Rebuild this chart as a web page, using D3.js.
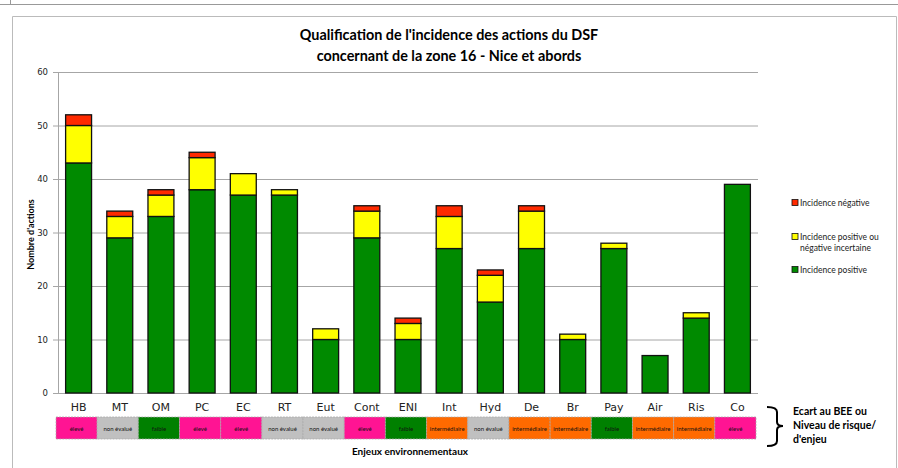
<!DOCTYPE html>
<html>
<head>
<meta charset="utf-8">
<script src="https://cdn.jsdelivr.net/npm/d3@7"></script>
<style>
body { margin: 0; background: #fff; }
svg { display: block; }
.tick text { font-family: "DejaVu Sans", Verdana, sans-serif; }
</style>
</head>
<body>
<svg width="898" height="468"></svg>
<script>
// Data
var categories = ['HB', 'MT', 'OM', 'PC', 'EC', 'RT', 'Eut', 'Cont', 'ENI', 'Int', 'Hyd', 'De', 'Br', 'Pay', 'Air', 'Ris', 'Co'];
var positive  = [43, 29, 33, 38, 37, 37, 10, 29, 10, 27, 17, 27, 10, 27, 7, 14, 39];
var uncertain = [7, 4, 4, 6, 4, 1, 2, 5, 3, 6, 5, 7, 1, 1, 0, 1, 0];
var negative  = [2, 1, 1, 1, 0, 0, 0, 1, 1, 2, 1, 1, 0, 0, 0, 0, 0];
var enjeux = ['élevé', 'non évalué', 'faible', 'élevé', 'élevé', 'non évalué', 'non évalué', 'élevé', 'faible',
    'intermédiaire', 'non évalué', 'intermédiaire', 'intermédiaire', 'faible', 'intermédiaire', 'intermédiaire', 'élevé'];
var yTicks = [0, 10, 20, 30, 40, 50, 60];
var seriesKeys = ['positive', 'uncertain', 'negative'];
var seriesLabels = {
    negative: ['Incidence négative'],
    uncertain: ['Incidence positive ou', 'négative incertaine'],
    positive: ['Incidence positive']
};
var seriesColors = {positive: '#008a00', uncertain: '#ffff00', negative: '#ff2a00'};
var enjeuColors = {'élevé': '#ff1493', 'non évalué': '#c0c0c0', 'faible': '#008000', 'intermédiaire': '#ff6a00'};

var svg = d3.select('svg');
var calibri = 'Lato, "Open Sans", sans-serif';

// chart frame
svg.append('line').attr('x1', 0).attr('x2', 898).attr('y1', 4.5).attr('y2', 4.5).attr('stroke', '#999');
svg.append('line').attr('x1', 10.5).attr('x2', 10.5).attr('y1', 0).attr('y2', 4.5).attr('stroke', '#999');
svg.append('path').attr('d', 'M12.5,468V16.5H896.5V468').attr('fill', 'none').attr('stroke', '#bbb');

var plot = {l: 58, r: 758, t: 72, b: 393};

var table = categories.map(function(c, i) {
    return {cat: c, positive: positive[i], uncertain: uncertain[i], negative: negative[i]};
});
var stacked = d3.stack().keys(seriesKeys)(table);

var xScale = d3.scaleBand()
    .domain(categories)
    .range([plot.l, plot.r])
    .paddingInner(0.37)
    .paddingOuter(0.185);

var yScale = d3.scaleLinear()
    .domain([0, 60])
    .range([plot.b, plot.t]);

// grid
svg.append('g')
    .attr('transform', 'translate(' + plot.l + ',0)')
    .call(d3.axisLeft(yScale).tickValues(yTicks).tickSize(-(plot.r - plot.l)).tickFormat(''))
    .call(function(g) {
        g.select('.domain').remove();
        g.selectAll('.tick line').attr('stroke', '#a6a6a6');
    });

// y axis
svg.append('g')
    .attr('transform', 'translate(' + plot.l + ',0)')
    .call(d3.axisLeft(yScale).tickValues(yTicks).tickSize(5).tickPadding(5))
    .call(function(g) {
        g.select('.domain').attr('stroke', '#a6a6a6');
        g.selectAll('.tick line').attr('stroke', '#a6a6a6');
        g.selectAll('.tick text').attr('font-size', 8.5).attr('fill', '#222');
    });

// x baseline
svg.append('line')
    .attr('x1', plot.l).attr('x2', plot.r)
    .attr('y1', yScale(0) + 0.5).attr('y2', yScale(0) + 0.5)
    .attr('stroke', '#a6a6a6');

// bars
svg.selectAll('.layer')
    .data(stacked)
    .enter()
    .append('g')
    .attr('class', 'layer')
    .attr('fill', function(d) { return seriesColors[d.key]; })
    .selectAll('rect')
    .data(function(d) { return d.filter(function(p) { return p[1] > p[0]; }); })
    .enter()
    .append('rect')
    .attr('x', function(d) { return xScale(d.data.cat); })
    .attr('y', function(d) { return yScale(d[1]); })
    .attr('width', xScale.bandwidth())
    .attr('height', function(d) { return yScale(d[0]) - yScale(d[1]); })
    .attr('stroke', '#111')
    .attr('stroke-width', 1.3);

// category labels
svg.append('g')
    .attr('transform', 'translate(0,' + (plot.b + 2) + ')')
    .call(d3.axisBottom(xScale).tickSize(0).tickPadding(8))
    .call(function(g) {
        g.select('.domain').remove();
        g.selectAll('.tick text').attr('font-size', 11).attr('fill', '#222');
    });

// enjeux row
var step = xScale.step();
var rowG = svg.append('g');
rowG.selectAll('rect')
    .data(categories)
    .enter()
    .append('rect')
    .attr('x', function(d) { return xScale(d) + xScale.bandwidth() / 2 - step / 2 - 2; })
    .attr('y', 417)
    .attr('width', step)
    .attr('height', 22)
    .attr('fill', function(d, i) { return enjeuColors[enjeux[i]]; })
    .attr('stroke', '#aaa')
    .attr('stroke-dasharray', '2,1')
    .attr('stroke-width', 0.8);
rowG.selectAll('text')
    .data(categories)
    .enter()
    .append('text')
    .attr('x', function(d) { return xScale(d) + xScale.bandwidth() / 2 - 2; })
    .attr('y', 430.5)
    .attr('text-anchor', 'middle')
    .attr('font-family', calibri)
    .attr('font-size', 6)
    .attr('fill', '#111')
    .text(function(d, i) { return enjeux[i]; });

svg.append('text')
    .attr('x', 410).attr('y', 455)
    .attr('text-anchor', 'middle')
    .attr('font-family', calibri)
    .attr('font-weight', 'bold')
    .attr('font-size', 10)
    .text('Enjeux environnementaux');

// brace
svg.append('path')
    .attr('d', 'M767,407 Q777,407 777,412 L777,422 Q777,426 783,426 Q777,426 777,430 L777,441 Q777,446 767,446')
    .attr('fill', 'none')
    .attr('stroke', '#000')
    .attr('stroke-width', 2);

svg.append('g').selectAll('text')
    .data(["Ecart au BEE ou", "Niveau de risque/", "d'enjeu"])
    .enter()
    .append('text')
    .attr('x', 793)
    .attr('y', function(d, i) { return 415 + i * 14; })
    .attr('font-family', calibri)
    .attr('font-weight', 'bold')
    .attr('font-size', 10.5)
    .text(function(d) { return d; });

// title
svg.append('g').selectAll('text')
    .data(["Qualification de l'incidence des actions du DSF", 'concernant de la zone 16 - Nice et abords'])
    .enter()
    .append('text')
    .attr('x', 449)
    .attr('y', function(d, i) { return 40 + i * 21; })
    .attr('text-anchor', 'middle')
    .attr('font-family', calibri)
    .attr('font-weight', 'bold')
    .attr('font-size', 14.4)
    .text(function(d) { return d; });

// y axis title
svg.append('text')
    .attr('transform', 'translate(34,' + ((plot.t + plot.b) / 2 + 2) + ') rotate(-90)')
    .attr('text-anchor', 'middle')
    .attr('font-family', calibri)
    .attr('font-weight', 'bold')
    .attr('font-size', 9)
    .text("Nombre d'actions");

// legend
var legendY = {negative: 203, uncertain: 237, positive: 270};
var legend = svg.append('g').selectAll('g')
    .data(['negative', 'uncertain', 'positive'])
    .enter()
    .append('g')
    .attr('transform', function(d) { return 'translate(792,' + legendY[d] + ')'; });
legend.append('rect')
    .attr('x', 0).attr('y', -3.5)
    .attr('width', 6).attr('height', 6)
    .attr('fill', function(d) { return seriesColors[d]; })
    .attr('stroke', '#111')
    .attr('stroke-width', 0.8);
legend.selectAll('text')
    .data(function(d) { return seriesLabels[d]; })
    .enter()
    .append('text')
    .attr('x', 8)
    .attr('y', function(d, i) { return 3 + i * 11; })
    .attr('font-family', calibri)
    .attr('font-size', 8.5)
    .attr('fill', '#222')
    .text(function(d) { return d; });
</script>
</body>
</html>
